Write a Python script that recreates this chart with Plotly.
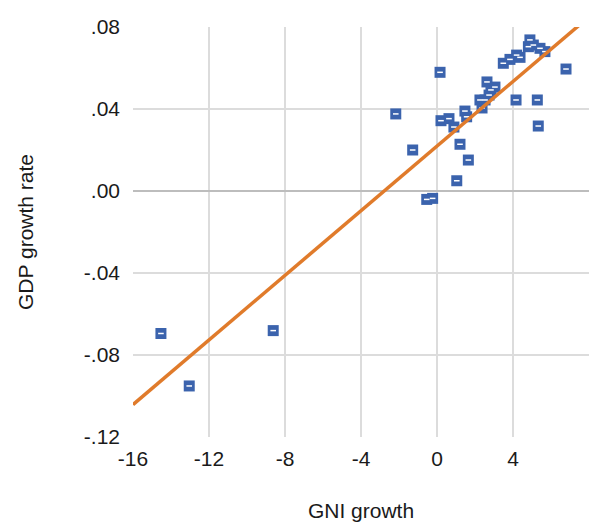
import plotly.graph_objects as go

# GNI growth (x) and GDP growth rate (y)
gni_growth = [-14.53, -13.04, -8.62, -2.17, 0.16, 0.21, 0.63, 0.89, -1.28, 1.21,
              1.65, 1.04, -0.54, -0.23, 1.47, 1.56, 2.26, 2.37, 2.53, 2.63,
              2.74, 2.84, 3.05, 3.49, 3.84, 4.19, 4.37, 4.89, 5.07, 4.81,
              5.42, 5.68, 4.16, 5.28, 5.33, 6.79]
gdp_growth = [-0.0695, -0.0951, -0.0681, 0.0376, 0.0579, 0.0343, 0.0353, 0.0312, 0.0200, 0.0228,
              0.0151, 0.0050, -0.0041, -0.0036, 0.0390, 0.0362, 0.0444, 0.0405, 0.0444, 0.0532,
              0.0468, 0.0493, 0.0507, 0.0623, 0.0642, 0.0663, 0.0652, 0.0737, 0.0712, 0.0704,
              0.0696, 0.0680, 0.0444, 0.0444, 0.0317, 0.0595]

# fitted trend line end points
trend_x = [-16.0, 7.5]
trend_y = [-0.1042, 0.0810]

x_ticks = [-16, -12, -8, -4, 0, 4, 8]
x_tick_text = ["-16", "-12", "-8", "-4", "0", "4", "8"]
y_ticks = [-0.12, -0.08, -0.04, 0.0, 0.04, 0.08]
y_tick_text = ["-.12", "-.08", "-.04", ".00", ".04", ".08"]

BLUE = "#3b63ad"
ORANGE = "#e07b2b"
FONT = "Liberation Sans, Arial, sans-serif"

fig = go.Figure()
fig.add_trace(go.Scatter(
    x=gni_growth, y=gdp_growth, mode="markers",
    marker=dict(symbol="square", size=11, color=BLUE, line=dict(width=0)),
    showlegend=False, hoverinfo="skip"))
fig.add_trace(go.Scatter(
    x=gni_growth, y=gdp_growth, mode="markers",
    marker=dict(symbol="line-ew", size=4, color="white", line=dict(width=1.5, color="white")),
    showlegend=False, hoverinfo="skip"))
fig.add_trace(go.Scatter(
    x=trend_x, y=trend_y, mode="lines",
    line=dict(color=ORANGE, width=3.5),
    showlegend=False, hoverinfo="skip"))

fig.update_layout(
    width=594, height=523,
    margin=dict(l=133, r=5, t=27, b=86),
    paper_bgcolor="white", plot_bgcolor="white",
    font=dict(family=FONT, color="#1a1a1a"),
    xaxis=dict(
        range=[-16, 8], tickvals=x_ticks, ticktext=x_tick_text,
        tickfont=dict(size=21, family=FONT, color="#1a1a1a"),
        showgrid=True, gridcolor="#dcdcdc", gridwidth=1.5,
        zeroline=False, showline=False, ticks="", ticklabelstandoff=7,
        title=dict(text="GNI growth", font=dict(size=21, family=FONT, color="#1a1a1a"), standoff=34),
    ),
    yaxis=dict(
        range=[-0.12, 0.08], tickvals=y_ticks, ticktext=y_tick_text,
        tickfont=dict(size=21, family=FONT, color="#1a1a1a"),
        showgrid=True, gridcolor="#dcdcdc", gridwidth=1.5,
        zeroline=True, zerolinecolor="#bdbdbd", zerolinewidth=2,
        showline=False, ticks="", ticklabelstandoff=12,
        title=dict(text="GDP growth rate", font=dict(size=21, family=FONT, color="#1a1a1a"), standoff=44),
    ),
)

fig.write_html("out.html")
